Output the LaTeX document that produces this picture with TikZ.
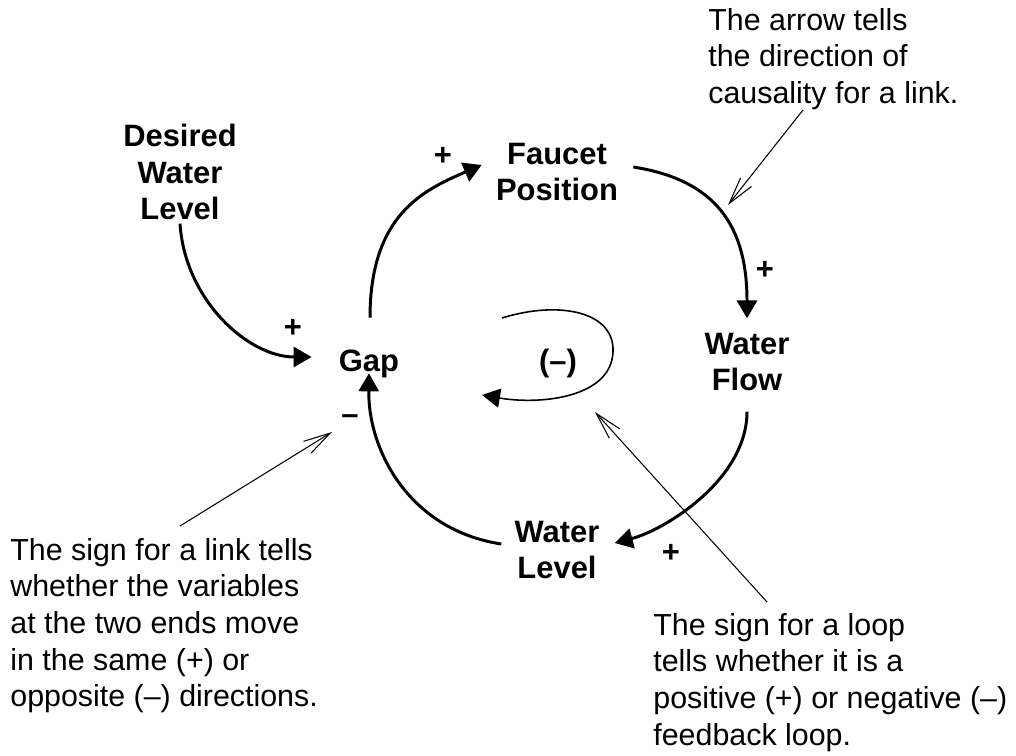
\documentclass[tikz,border=0pt]{standalone}
\usepackage{fontspec}
\setmainfont{Liberation Sans}
\usetikzlibrary{arrows.meta}
\tikzset{
  var/.style={font=\bfseries\fontsize{17.6}{21}\selectfont,align=center,inner sep=0pt},
  sgn/.style={font=\bfseries\fontsize{17.6}{21}\selectfont,inner sep=0pt},
  note/.style={font=\fontsize{17.3}{20.8}\selectfont,align=left,inner sep=0pt,anchor=north west},
  lnk/.style={-{Triangle[length=0.36cm,width=0.4cm]},line width=1.7pt},
  lp/.style={-{Triangle[length=0.36cm,width=0.38cm]},line width=0.9pt},
  ptr/.style={-{Straight Barb[length=0.54cm,width=0.28cm]},line width=0.6pt}
}

\begin{document}
\begin{tikzpicture}[x=0.02cm,y=-0.02cm]
  \useasboundingbox (0,0) rectangle (1016,756);

  \node[var] (desired) at (180,172) {Desired\\Water\\Level};
  \node[var] (fau) at (557,172) {Faucet\\Position};
  \node[var] (gap) at (369,364) {Gap};
  \node[var] (flow) at (747,362) {Water\\Flow};
  \node[var] (wlev) at (557,550) {Water\\Level};
  \node[var] (loopsgn) at (558,364) {(--)};

  \node[sgn] (s1) at (293,328) {+};
  \node[sgn] (s2) at (443,156) {+};
  \node[sgn] (s3) at (765,270) {+};
  \node[sgn] (s4) at (671,553) {+};
  \node[sgn] (s5) at (350,420) {--};

  \node[note] (ntarrow) at (708,8) {The arrow tells\\the direction of\\causality for a link.};
  \node[note] (ntlink) at (10,538) {The sign for a link tells\\whether the variables\\at the two ends move\\in the same (+) or\\opposite (--) directions.};
  \node[note] (ntloop) at (653,613) {The sign for a loop\\tells whether it is a\\positive (+) or negative (--)\\feedback loop.};

  \coordinate (lpa) at (502,318);
  \coordinate (lpb) at (482,395);
  \coordinate (ptarrow) at (728,205);
  \coordinate (ptlink) at (332,432);
  \coordinate (ptloop) at (595,412);

  \draw[lnk] ([shift={(0,3)}]desired.south) .. controls +(5,77) and +(-63,0) .. ([shift={(-27,-7)}]gap.west);
  \draw[lnk] ([shift={(1,-32)}]gap.north) .. controls +(0,-103) and +(-58,25) .. ([shift={(-14,-7)}]fau.west);
  \draw[lnk] ([shift={(15,-5)}]fau.east) .. controls +(82,13) and +(0,-93) .. ([shift={(0,-14)}]flow.north);
  \draw[lnk] ([shift={(0,20)}]flow.south) .. controls +(0,68) and +(50,-13) .. ([shift={(15,-7)}]wlev.east);
  \draw[lnk] ([shift={(-13,-6)}]wlev.west) .. controls +(-92,-14) and +(-1,77) .. ([shift={(0,-5)}]gap.south);

  \draw[lp] (lpa) .. controls (560,300) and (615,312) .. (613,352) .. controls (611,398) and (540,405) .. (lpb);

  \draw[ptr] ([shift={(95,102)}]ntarrow.north west) -- (ptarrow);
  \draw[ptr] ([shift={(170,-12)}]ntlink.north west) -- (ptlink);
  \draw[ptr] ([shift={(114,-11)}]ntloop.north west) -- (ptloop);
\end{tikzpicture}
\end{document}
